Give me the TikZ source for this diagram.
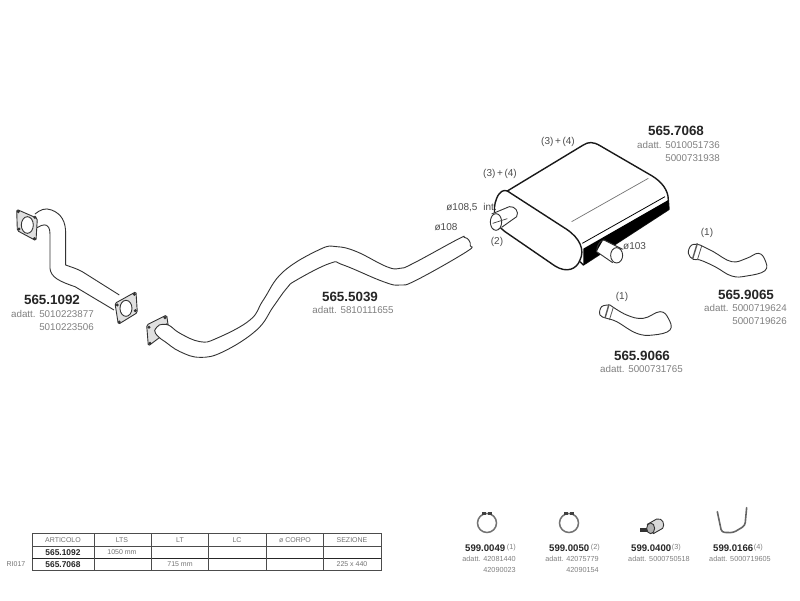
\documentclass[tikz,border=0pt]{standalone}
\usepackage{fontspec}
\setmainfont{Liberation Sans}
\tikzset{
	partno/.style={font=\bfseries\fontsize{13.4}{14}\selectfont,text=black!85,inner sep=0pt},
	adatt/.style={font=\fontsize{9.8}{11}\selectfont,text=black!50,inner sep=0pt},
	note/.style={font=\fontsize{10}{11}\selectfont,text=black!70,inner sep=0pt},
	smallno/.style={font=\bfseries\fontsize{9.6}{10}\selectfont,text=black!85,inner sep=0pt},
	smallgr/.style={font=\fontsize{7.3}{8}\selectfont,text=black!50,inner sep=0pt},
	tabhead/.style={font=\fontsize{7}{8}\selectfont,text=black!55,inner sep=0pt},
	tabno/.style={font=\bfseries\fontsize{8.4}{9}\selectfont,text=black!85,inner sep=0pt},
	pipeline/.style={draw=black!80,line width=.9pt,fill=white,line join=round},
	flange/.style={draw=black!80,line width=.9pt,fill=black!12,rounded corners=1.5pt},
	heavy/.style={draw=black!90,line width=1.4pt,fill=white,line join=round},
	zoomL/.style={shift={(0,190)},x=.3333pt,y=-.3333pt},
	zoomM/.style={shift={(130,210)},x=.3333pt,y=-.3333pt},
	zoomS/.style={shift={(420,110)},x=.3333pt,y=-.3333pt},
	zoomE/.style={shift={(590,210)},x=.3333pt,y=-.3333pt},
	zoomB/.style={shift={(440,495)},x=.3333pt,y=-.3333pt}
}
\begin{document}
\begin{tikzpicture}[x=1pt,y=-1pt]
	\useasboundingbox[fill=white] (0,0) rectangle (800,600);

	% front pipe with two flanges
	\begin{scope}[zoomL]
		\draw[pipeline,fill=none] (105,72) .. controls (120,60) and (135,52) .. (155,60) .. controls (185,72) and (197,95) .. (197,130) -- (197,225) .. controls (215,232) and (230,235) .. (250,247) -- (358,315);
		\draw[pipeline,fill=none] (108,115) .. controls (120,108) and (130,102) .. (140,106) .. controls (150,112) and (150,125) .. (150,140) -- (150,235) .. controls (152,262) and (180,275) .. (225,290) -- (342,360);
		\draw[flange] (50,58) -- (112,85) -- (108,152) -- (52,122) -- cycle;
		\draw[pipeline] (82,105) ellipse (18 and 25);
		\draw[flange] (345,340) -- (408,305) -- (412,368) -- (355,403) -- cycle;
		\draw[pipeline] (378,355) ellipse (18 and 24);
		\foreach \hx/\hy in {55/65,105/82,103/146,57/117,352/345,403/313,406/362,358/396}
			\fill[black!80] (\hx,\hy) circle (5);
	\end{scope}

	% middle pipe
	\begin{scope}[zoomM]
		\draw[flange] (50,345) -- (110,315) -- (115,350) -- (108,368) -- (55,408) -- cycle;
		\foreach \hx/\hy in {57/352,105/323,110/345,60/400}
			\fill[black!80] (\hx,\hy) circle (5);
		\draw[pipeline] plot[smooth,tension=.7] coordinates {(88,345) (115,345) (150,370) (210,395) (260,385) (360,330) (400,270) (460,185) (570,118) (620,110) (680,125) (770,170) (810,175) (850,160) (985,87) (1003,82) (1017,91) (1021,107) (1010,125) (860,210) (810,225) (760,215) (640,165) (600,160) (500,210) (470,235) (430,290) (380,360) (280,425) (210,442) (150,425) (105,395) (85,380) (74,362) (88,345)};
	\end{scope}

	% silencer body
	\begin{scope}[zoomS]
		\draw[heavy] (262,243) -- (490,105) .. controls (505,95) and (520,95) .. (540,107) -- (695,197) .. controls (725,215) and (745,240) .. (745,270) -- (747,298) -- (490,465) -- cycle;
		\fill[black] (490,416) -- (745,270) -- (747,298) -- (490,465) -- cycle;
		\draw[black,line width=.8pt] (487,400) -- (735,260);
		\draw[black!55,line width=.7pt] (455,335) -- (685,205);
		\draw[heavy] (262,243) -- (440,358) .. controls (480,385) and (495,420) .. (480,450) .. controls (470,478) and (440,490) .. (405,468) -- (255,365) .. controls (225,345) and (215,300) .. (230,265) .. controls (238,245) and (250,238) .. (262,243) -- cycle;
		% outlet stubs
		\fill[white] (550,390) -- (608,418) -- (578,458) -- (530,425) -- cycle;
		\draw[pipeline] (530,425) -- (578,458);
		\draw[pipeline,fill=none] (530,425) .. controls (530,405) and (540,392) .. (552,390) -- (608,418);
		\draw[pipeline] (590,436) ellipse (18 and 23);
		\fill[white] (215,312) -- (268,290) -- (290,320) -- (245,352) -- cycle;
		\draw[pipeline] (215,312) -- (268,290) .. controls (285,288) and (298,305) .. (290,320) -- (245,352);
		\draw[pipeline] (228,336) ellipse (17 and 25);
		\draw[black!75,line width=.7pt] (218,340) -- (262,326);
	\end{scope}

	% tail pipes
	\begin{scope}[zoomE]
		\draw[pipeline] plot[smooth,tension=.7] coordinates {(330,105) (370,125) (425,155) (470,145) (505,130) (525,150) (525,182) (470,198) (425,198) (375,170) (330,150) (310,148) (295,130) (305,105) (330,105)};
		\draw[black!65,line width=1.4pt] (322,100) -- (308,146);
		\draw[black!65,line width=.8pt] (335,108) -- (322,150);
		\draw[pipeline] plot[smooth,tension=.7] coordinates {(60,285) (110,315) (160,325) (210,305) (235,325) (240,360) (190,375) (140,370) (80,335) (50,325) (30,315) (35,290) (60,285)};
		\draw[black!65,line width=1.4pt] (57,283) -- (45,324);
		\draw[black!65,line width=.8pt] (70,292) -- (58,330);
	\end{scope}

	% small parts
	\foreach \cx in {487,569} {
		\draw[black!55,line width=1.5pt] (\cx,523) circle (9.5);
		\fill[black!75] (\cx-5,512) rectangle (\cx-1,515);
		\fill[black!75] (\cx+1,512) rectangle (\cx+5,515);
	}
	\begin{scope}[zoomB]
		\draw[pipeline,fill=black!15] (622,88) -- (650,72) .. controls (668,68) and (676,88) .. (668,100) -- (640,116) -- cycle;
		\draw[pipeline,fill=black!30] (632,100) ellipse (12 and 16);
		\fill[black!80] (600,98) rectangle (620,110);
		\draw[black!60,line width=1.6pt,line join=round,line cap=round,rounded corners=3pt] (832,50) -- (845,112) -- (880,113) -- (915,92) -- (920,38);
	\end{scope}

	% labels of the parts
	\node[partno] (p1092) at (52,300) {565.1092};
	\node[adatt,anchor=east] (a1092a) at (94,314) {adatt. 5010223877};
	\node[adatt,anchor=east] (a1092b) at (94,327) {5010223506};
	\node[partno] (p5039) at (350,297) {565.5039};
	\node[adatt] (a5039) at (353,310) {adatt. 5810111655};
	\node[partno] (p7068) at (676,131) {565.7068};
	\node[adatt,anchor=east] (a7068a) at (720,145) {adatt. 5010051736};
	\node[adatt,anchor=east] (a7068b) at (720,158) {5000731938};
	\node[partno] (p9065) at (746,295) {565.9065};
	\node[adatt,anchor=east] (a9065a) at (787,308) {adatt. 5000719624};
	\node[adatt,anchor=east] (a9065b) at (787,321) {5000719626};
	\node[partno] (p9066) at (642,356) {565.9066};
	\node[adatt,anchor=east] (a9066) at (683,369) {adatt. 5000731765};

	% notes on the drawing
	\node[note] (n34a) at (558,142) {(3)\,+\,(4)};
	\node[note] (n34b) at (500,174) {(3)\,+\,(4)};
	\node[note,anchor=east] (nd1085) at (497,208) {ø108,5\hspace{6pt}int.};
	\node[note] (nd108) at (446,227) {ø108};
	\node[note] (nd2) at (497,242) {(2)};
	\node[note,anchor=west] (nd103) at (623,246) {ø103};
	\node[note] (nd1a) at (707,233) {(1)};
	\node[note] (nd1b) at (622,297) {(1)};

	% accessories
	\node[smallno,anchor=west] (c0049) at (465,548) {599.0049};
	\node[smallgr,anchor=east] (m0049) at (516,548) {(1)};
	\node[smallgr,anchor=east] (a0049a) at (516,559) {adatt. 42081440};
	\node[smallgr,anchor=east] (a0049b) at (516,570) {42090023};
	\node[smallno,anchor=west] (c0050) at (549,548) {599.0050};
	\node[smallgr,anchor=east] (m0050) at (600,548) {(2)};
	\node[smallgr,anchor=east] (a0050a) at (599,559) {adatt. 42075779};
	\node[smallgr,anchor=east] (a0050b) at (599,570) {42090154};
	\node[smallno,anchor=west] (c0400) at (631,548) {599.0400};
	\node[smallgr,anchor=east] (m0400) at (681,548) {(3)};
	\node[smallgr,anchor=east] (a0400) at (690,559) {adatt. 5000750518};
	\node[smallno,anchor=west] (c0166) at (713,548) {599.0166};
	\node[smallgr,anchor=east] (m0166) at (763,548) {(4)};
	\node[smallgr,anchor=east] (a0166) at (771,559) {adatt. 5000719605};

	% table
	\draw[black!70,line width=.6pt] (32,533) rectangle (381,570);
	\draw[black!70,line width=.6pt] (32,546) -- (381,546);
	\draw[black!85,line width=.7pt] (32,558) -- (381,558);
	\foreach \colx in {94,151,208,266,323}
		\draw[black!70,line width=.6pt] (\colx,533) -- (\colx,570);
	\node[tabhead] (hart) at (63,540) {ARTICOLO};
	\node[tabhead] (hlts) at (122,540) {LTS};
	\node[tabhead] (hlt) at (180,540) {LT};
	\node[tabhead] (hlc) at (237,540) {LC};
	\node[tabhead] (hcorpo) at (295,540) {ø CORPO};
	\node[tabhead] (hsez) at (352,540) {SEZIONE};
	\node[tabno] (t1092) at (63,552.5) {565.1092};
	\node[tabhead] (t1050) at (122,552) {1050 mm};
	\node[tabno] (t7068) at (63,565) {565.7068};
	\node[tabhead] (t715) at (180,564) {715 mm};
	\node[tabhead] (t225) at (352,564) {225 x 440};
	\node[tabhead] (trif) at (16,564) {RI017};
\end{tikzpicture}
\end{document}
